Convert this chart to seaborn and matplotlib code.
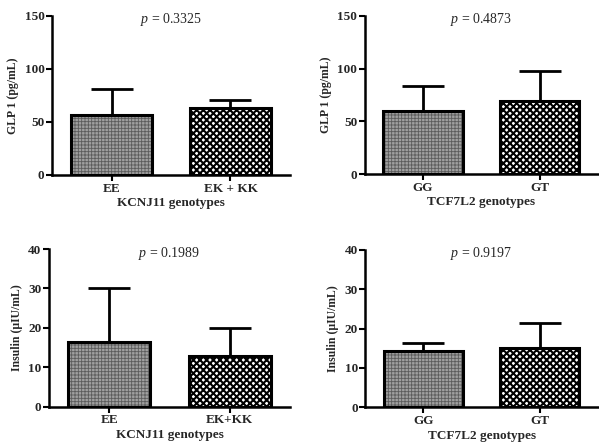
import matplotlib
matplotlib.use("Agg")
import matplotlib.pyplot as plt
import seaborn as sns
import pandas as pd

sns.set_theme(style="ticks")
plt.rcParams['font.family'] = ['Liberation Serif', 'DejaVu Serif']
plt.rcParams['mathtext.fontset'] = 'custom'
plt.rcParams['mathtext.it'] = 'Liberation Serif:italic'
plt.rcParams['mathtext.rm'] = 'Liberation Serif'
plt.rcParams['hatch.linewidth'] = 0.7

# Data
kcnj11_groups = ["EE", "EK + KK"]
kcnj11_groups_b = ["EE", "EK+KK"]
tcf7l2_groups = ["GG", "GT"]

glp1_kcnj11_mean = [56.5, 63.5]
glp1_kcnj11_sd = [25.0, 7.0]
glp1_tcf7l2_mean = [59.5, 69.0]
glp1_tcf7l2_sd = [24.0, 28.5]

ins_kcnj11_mean = [16.4, 12.9]
ins_kcnj11_sd = [13.6, 7.1]
ins_tcf7l2_mean = [14.4, 15.0]
ins_tcf7l2_sd = [1.9, 6.5]

p_values = ["0.3325", "0.4873", "0.1989", "0.9197"]
y_labels = ["GLP 1 (pg/mL)", "GLP 1 (pg/mL)", "Insulin (\u03bcIU/mL)", "Insulin (\u03bcIU/mL)"]
x_labels = ["KCNJ11 genotypes", "TCF7L2 genotypes", "KCNJ11 genotypes", "TCF7L2 genotypes"]
y_ticks_top = [0, 50, 100, 150]
y_ticks_bottom = [0, 10, 20, 30, 40]

fig = plt.figure(figsize=(5.99, 4.44), dpi=100)
positions = [
    [0.087, 0.606, 0.397, 0.358],
    [0.609, 0.608, 0.389, 0.356],
    [0.082, 0.084, 0.402, 0.355],
    [0.610, 0.083, 0.388, 0.354],
]
panels = [
    (kcnj11_groups, glp1_kcnj11_mean, glp1_kcnj11_sd, y_ticks_top),
    (tcf7l2_groups, glp1_tcf7l2_mean, glp1_tcf7l2_sd, y_ticks_top),
    (kcnj11_groups_b, ins_kcnj11_mean, ins_kcnj11_sd, y_ticks_bottom),
    (tcf7l2_groups, ins_tcf7l2_mean, ins_tcf7l2_sd, y_ticks_bottom),
]

face = ["#a0a0a0", "white"]
hatches = ["+++++", "xxxxx"]
hatch_col = ["#5c5c5c", "black"]
hatch_lw = [0.6, 1.5]

for i, (pos, (groups, means, sds, yticks)) in enumerate(zip(positions, panels)):
    ax = fig.add_axes(pos)
    df = pd.DataFrame({"group": groups, "value": means})
    sns.barplot(data=df, x="group", y="value", hue="group", ax=ax,
                width=0.68, legend=False, errorbar=None,
                palette=face, edgecolor="black", linewidth=2)
    for j, patch in enumerate(ax.patches):
        patch.set_facecolor(face[j])
        patch.set_hatch(hatches[j])
        patch.set_edgecolor(hatch_col[j])
        patch.set_linewidth(0)
        try:
            patch.set_hatch_linewidth(hatch_lw[j])
        except Exception:
            pass
        ax.add_patch(plt.Rectangle(patch.get_xy(), patch.get_width(), patch.get_height(),
                                   fill=False, edgecolor="black", linewidth=2.2, zorder=3))
    for j in range(len(groups)):
        ax.errorbar([j], [means[j]], yerr=[[0], [sds[j]]], fmt="none",
                    ecolor="black", elinewidth=2, capsize=15, capthick=2, zorder=2)
    ax.set_xlim(-0.5, 1.5)
    ax.set_ylim(yticks[0], yticks[-1])
    ax.set_yticks(yticks)
    ax.set_xticks([0, 1])
    ax.set_xticklabels(groups, fontsize=9.5, fontweight="bold")
    ax.set_yticklabels([str(t) for t in yticks], fontsize=9.5, fontweight="bold")
    ax.set_ylabel(y_labels[i], fontsize=8.5, fontweight="bold", labelpad=4)
    ax.set_xlabel(x_labels[i], fontsize=9.5, fontweight="bold", labelpad=2)
    for s in ["top", "right"]:
        ax.spines[s].set_visible(False)
    for s in ["left", "bottom"]:
        ax.spines[s].set_linewidth(1.8)
        ax.spines[s].set_color("black")
    ax.tick_params(axis="both", width=1.5, length=4, color="black", pad=1.5)
    ax.text(0.5, 0.975, "$p$ = " + p_values[i], transform=ax.transAxes,
            ha="center", va="center", fontsize=10)

fig.savefig("out.png", dpi=100)
